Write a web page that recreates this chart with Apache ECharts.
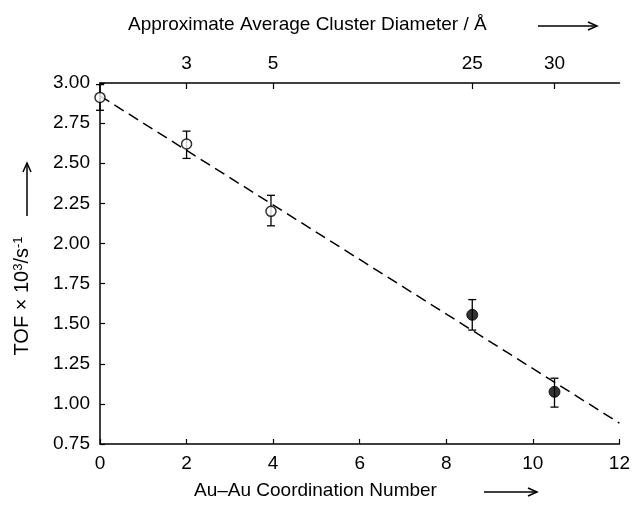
<!DOCTYPE html>
<html>
<head>
<meta charset="utf-8">
<script src="https://cdn.jsdelivr.net/npm/echarts@6/dist/echarts.min.js"></script>
<style>
  html, body { margin: 0; padding: 0; background: #fff; }
  #chart { width: 633px; height: 517px; }
</style>
</head>
<body>
<div id="chart"></div>
<script>
// ---- data ----
const coordNumber   = [0, 2.0, 3.95, 8.6, 10.5];          // Au–Au coordination number
const tofValues     = [2.91, 2.62, 2.20, 1.555, 1.075];    // TOF x 10^3 / s^-1
const errLow        = [2.83, 2.53, 2.11, 1.46, 0.98];
const errHigh       = [2.99, 2.70, 2.30, 1.65, 1.16];
const openPoints    = [0, 1, 2];                          // indices drawn as open circles
const filledPoints  = [3, 4];                             // indices drawn as filled circles
const fitLineX      = [0, 12];
const fitLineY      = [2.92, 0.88];
const topTickPos    = [2, 4, 8.6, 10.5];                  // cluster diameter ticks on top axis
const topTickLabels = ['3', '5', '25', '30'];
const xTitle   = 'Au–Au Coordination Number';
const topTitle = 'Approximate Average Cluster Diameter / Å';

const FONT = '"Liberation Sans", Arial, Helvetica, sans-serif';
const INK = '#000';

const chart = echarts.init(document.getElementById('chart'), null, { renderer: 'canvas' });

const openData   = openPoints.map(i => [coordNumber[i], tofValues[i]]);
const filledData = filledPoints.map(i => [coordNumber[i], tofValues[i]]);
const errData    = coordNumber.map((x, i) => [x, errLow[i], errHigh[i]]);
const lineData   = fitLineX.map((x, i) => [x, fitLineY[i]]);

function arrow(x1, y1, x2, y2) {
  const ang = Math.atan2(y2 - y1, x2 - x1);
  const L = 9, W = 4;
  const bx = x2 - L * Math.cos(ang), by = y2 - L * Math.sin(ang);
  const px = -Math.sin(ang) * W, py = Math.cos(ang) * W;
  return [
    { type: 'line', shape: { x1, y1, x2, y2 }, style: { stroke: INK, lineWidth: 1.5 }, silent: true },
    { type: 'polyline', shape: { points: [[bx + px, by + py], [x2, y2], [bx - px, by - py]] },
      style: { stroke: INK, lineWidth: 1.5, fill: null }, silent: true }
  ];
}

const option = {
  backgroundColor: '#fff',
  animation: false,
  textStyle: { fontFamily: FONT, color: INK },
  grid: { left: 100, right: 11, top: 83, bottom: 73, containLabel: false },
  xAxis: [
    {
      type: 'value', position: 'bottom', min: 0, max: 12, interval: 2,
      axisLine: { show: true, lineStyle: { color: INK, width: 1.5 } },
      axisTick: { show: true, inside: true, length: 5, lineStyle: { color: INK, width: 1.2 } },
      axisLabel: { fontFamily: FONT, fontSize: 19, color: INK, margin: 10 },
      splitLine: { show: false }
    },
    {
      type: 'value', position: 'top', min: 0, max: 12,
      axisLine: { show: true, onZero: false, lineStyle: { color: INK, width: 1.5 } },
      axisTick: { show: true, inside: true, length: 6, customValues: topTickPos, lineStyle: { color: INK, width: 1.2 } },
      axisLabel: {
        show: true, customValues: topTickPos, fontFamily: FONT, fontSize: 19, color: INK, margin: 10,
        formatter: v => { const i = topTickPos.indexOf(v); return i >= 0 ? topTickLabels[i] : ''; }
      },
      splitLine: { show: false }
    }
  ],
  yAxis: {
    type: 'value', min: 0.75, max: 3.0, interval: 0.25,
    axisLine: { show: true, onZero: false, lineStyle: { color: INK, width: 1.5 } },
    axisTick: { show: true, inside: true, length: 5, lineStyle: { color: INK, width: 1.2 } },
    axisLabel: { fontFamily: FONT, fontSize: 19, color: INK, margin: 10, formatter: v => v.toFixed(2) },
    splitLine: { show: false }
  },
  series: [
    {
      type: 'line', name: 'fit', data: lineData, xAxisIndex: 0, showSymbol: false, symbol: 'none',
      lineStyle: { color: INK, width: 1.5, type: [11, 6] }, z: 2, silent: true
    },
    {
      type: 'custom', name: 'error', xAxisIndex: 0, data: errData, z: 3, silent: true,
      renderItem: function (params, api) {
        const x = api.value(0);
        const lo = api.coord([x, api.value(1)]);
        const hi = api.coord([x, api.value(2)]);
        const cw = 4;
        const st = { stroke: INK, lineWidth: 1.3 };
        return {
          type: 'group',
          children: [
            { type: 'line', shape: { x1: lo[0], y1: lo[1], x2: hi[0], y2: hi[1] }, style: st },
            { type: 'line', shape: { x1: lo[0] - cw, y1: lo[1], x2: lo[0] + cw, y2: lo[1] }, style: st },
            { type: 'line', shape: { x1: hi[0] - cw, y1: hi[1], x2: hi[0] + cw, y2: hi[1] }, style: st }
          ]
        };
      }
    },
    {
      type: 'scatter', name: 'open', data: openData, xAxisIndex: 0, symbol: 'circle', symbolSize: 10, z: 5,
      itemStyle: { color: '#fff', borderColor: INK, borderWidth: 1.5 }
    },
    {
      type: 'scatter', name: 'filled', data: filledData, xAxisIndex: 0, symbol: 'circle', symbolSize: 11, z: 5,
      itemStyle: { color: INK, borderColor: INK, borderWidth: 1 }
    }
  ],
  graphic: [
    { type: 'text', left: 128, top: 15, silent: true,
      style: { text: topTitle, fontFamily: FONT, fontSize: 19, fill: INK } },
    { type: 'text', left: 194, top: 481, silent: true,
      style: { text: xTitle, fontFamily: FONT, fontSize: 19, fill: INK } },
    { type: 'text', x: 22, y: 296, rotation: Math.PI / 2, silent: true,
      style: {
        text: 'TOF × 10{sup|3}/s{sup|-1}',
        fontFamily: FONT, fontSize: 20, fill: INK, align: 'center', verticalAlign: 'middle',
        rich: { sup: { fontSize: 13, fontFamily: FONT, fill: INK, verticalAlign: 'top', padding: [0, 0, 8, 0] } }
      } },
    ...arrow(538, 26, 597, 26),
    ...arrow(484, 492, 537, 492),
    ...arrow(27, 216, 27, 163)
  ]
};

chart.setOption(option);
</script>
</body>
</html>
